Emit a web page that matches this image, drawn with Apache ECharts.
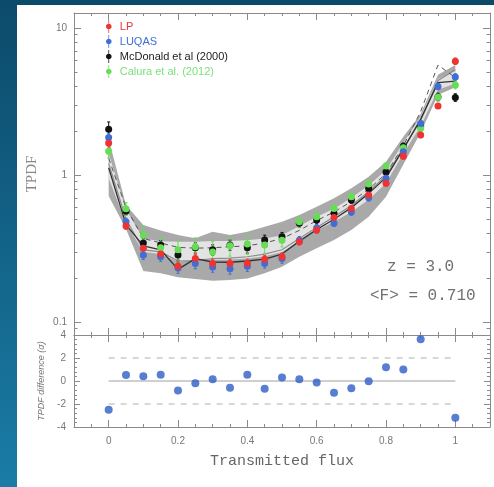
<!DOCTYPE html>
<html>
<head>
<meta charset="utf-8">
<script src="https://cdn.jsdelivr.net/npm/echarts@6/dist/echarts.min.js"></script>
<style>
  html, body { margin: 0; padding: 0; background: #ffffff; }
  #chart { width: 494px; height: 487px; }
</style>
</head>
<body>
<div id="chart"></div>
<script>
// Flux bins shared by all TPDF measurements
const fluxBins = [0, 0.05, 0.1, 0.15, 0.2, 0.25, 0.3, 0.35, 0.4, 0.45, 0.5,
                  0.55, 0.6, 0.65, 0.7, 0.75, 0.8, 0.85, 0.9, 0.95, 1.0];

// TPDF measurements
const lpTpdf      = [1.65, 0.45, 0.317, 0.29, 0.24, 0.27, 0.25, 0.25, 0.25, 0.267, 0.278,
                     0.352, 0.423, 0.515, 0.593, 0.73, 0.878, 1.34, 1.87, 2.95, 5.95];
const luqasTpdf   = [1.8, 0.48, 0.286, 0.278, 0.233, 0.25, 0.237, 0.23, 0.24, 0.25, 0.27,
                     0.36, 0.436, 0.47, 0.56, 0.70, 0.95, 1.44, 2.24, 4.0, 4.65];
const mcdTpdf     = [2.05, 0.57, 0.345, 0.334, 0.286, 0.32, 0.31, 0.334, 0.32, 0.361, 0.38,
                     0.469, 0.495, 0.55, 0.676, 0.81, 1.05, 1.57, 2.15, 3.4, 3.37];
const caluraTpdf  = [1.45, 0.59, 0.39, 0.32, 0.31, 0.325, 0.30, 0.33, 0.34, 0.334, 0.36,
                     0.48, 0.52, 0.593, 0.712, 0.87, 1.15, 1.53, 2.08, 3.38, 4.1];

// Fractional 1-sigma errors
const lpErr      = [0.06, 0.05, 0.06, 0.06, 0.07, 0.07, 0.07, 0.07, 0.07, 0.06, 0.06,
                    0.05, 0.05, 0.05, 0.04, 0.04, 0.04, 0.04, 0.04, 0.04, 0.05];
const luqasErr   = [0.07, 0.06, 0.07, 0.07, 0.08, 0.08, 0.08, 0.08, 0.08, 0.07, 0.07,
                    0.06, 0.06, 0.05, 0.05, 0.05, 0.04, 0.04, 0.04, 0.05, 0.05];
const mcdErr     = [0.12, 0.06, 0.07, 0.07, 0.08, 0.08, 0.08, 0.08, 0.08, 0.08, 0.07,
                    0.06, 0.06, 0.06, 0.05, 0.05, 0.05, 0.05, 0.05, 0.06, 0.06];
const caluraErr  = [0.10, 0.10, 0.15, 0.20, 0.15, 0.15, 0.18, 0.15, 0.15, 0.12, 0.10,
                    0.08, 0.08, 0.07, 0.06, 0.06, 0.05, 0.05, 0.05, 0.05, 0.06];

// Simulation envelopes
const outerLow  = [0.72, 0.43, 0.222, 0.215, 0.202, 0.196, 0.191, 0.193, 0.198, 0.215, 0.238,
                   0.278, 0.317, 0.361, 0.422, 0.52, 0.712, 1.18, 1.95, 3.5, 3.95];
const outerHigh = [1.75, 0.625, 0.457, 0.42, 0.391, 0.371, 0.411, 0.391, 0.411, 0.445, 0.481,
                   0.535, 0.608, 0.694, 0.812, 0.974, 1.23, 1.82, 2.6, 4.8, 5.6];
const innerLow  = [0.95, 0.47, 0.30, 0.29, 0.257, 0.264, 0.264, 0.266, 0.27, 0.28, 0.30,
                   0.355, 0.42, 0.48, 0.56, 0.68, 0.88, 1.4, 2.15, 3.8, 4.2];
const innerHigh = [1.4, 0.58, 0.37, 0.355, 0.352, 0.352, 0.356, 0.356, 0.36, 0.37, 0.39,
                   0.45, 0.52, 0.59, 0.70, 0.85, 1.08, 1.65, 2.5, 4.5, 5.1];

// Model curves
const modelSolid  = [1.12, 0.46, 0.33, 0.31, 0.228, 0.27, 0.256, 0.255, 0.26, 0.268, 0.29,
                     0.355, 0.425, 0.50, 0.60, 0.75, 0.96, 1.5, 2.4, 4.25, 4.35];
const modelGray   = [1.2, 0.50, 0.31, 0.30, 0.26, 0.262, 0.27, 0.272, 0.278, 0.29, 0.31,
                     0.37, 0.44, 0.52, 0.62, 0.77, 0.99, 1.52, 2.35, 4.4, 5.2];
const modelDashed = [1.3, 0.60, 0.37, 0.345, 0.322, 0.318, 0.32, 0.325, 0.33, 0.345, 0.37,
                     0.42, 0.49, 0.56, 0.66, 0.80, 1.02, 1.58, 2.7, 5.6, 4.6];

// Residuals (sigma), lower panel
const diffFlux  = [0, 0.05, 0.1, 0.15, 0.2, 0.25, 0.3, 0.35, 0.4, 0.45, 0.5,
                   0.55, 0.6, 0.65, 0.7, 0.75, 0.8, 0.85, 0.9, 1.0];
const diffSigma = [-2.5, 0.52, 0.42, 0.54, -0.82, -0.2, 0.16, -0.58, 0.54, -0.67, 0.31,
                   0.16, -0.13, -1.02, -0.64, -0.02, 1.2, 0.99, 3.63, -3.19];
const sigmaDashed = [2, -2];
const sigmaZero = [0];

// Axis ticks
const xMajorTicks = [0, 0.2, 0.4, 0.6, 0.8, 1];
const logMajorTicks = [0.1, 1, 10];
const logMinorTicks = [0.09, 0.2, 0.3, 0.4, 0.5, 0.6, 0.7, 0.8, 0.9, 2, 3, 4, 5, 6, 7, 8, 9];

const LOG_MIN = 0.0816, LOG_MAX = 12.65;
const AX = '#8a8a8a';
const LABEL = { color: '#777', fontSize: 10, fontFamily: 'Liberation Sans' };

const isMajorX = v => v > -0.01 && v < 1.01 && Math.abs(v / 0.2 - Math.round(v / 0.2)) < 1e-6;

function xAxesFor(grid, pos, withLabels) {
  const base = {
    type: 'value', gridIndex: grid, position: pos, min: -0.1, max: 1.1,
    splitLine: { show: false }
  };
  const minor = Object.assign({}, base, {
    interval: 0.05,
    axisLine: { show: true, onZero: false, lineStyle: { color: AX, width: 1 } },
    axisTick: { show: true, inside: true, length: 3, lineStyle: { color: AX } },
    axisLabel: withLabels
      ? Object.assign({}, LABEL, { margin: 9, formatter: v => isMajorX(v) ? String(+v.toFixed(1)) : '' })
      : { show: false }
  });
  if (withLabels) {
    minor.name = 'Transmitted flux';
    minor.nameLocation = 'middle';
    minor.nameGap = 27;
    minor.nameTextStyle = { color: '#666', fontSize: 15, fontFamily: 'Liberation Mono' };
  }
  const major = Object.assign({}, base, {
    splitNumber: 6,
    axisLine: { show: false, onZero: false },
    axisTick: { show: true, inside: true, length: 7, customValues: xMajorTicks, lineStyle: { color: AX } },
    axisLabel: { show: false }
  });
  return [minor, major];
}

const xAxes = [].concat(
  xAxesFor(0, 'bottom', false),   // 0,1
  xAxesFor(0, 'top', false),      // 2,3
  xAxesFor(1, 'bottom', true),    // 4,5
  xAxesFor(1, 'top', false)       // 6,7
);

function logAxis(pos, ticks, len, labels, line) {
  const a = {
    type: 'log', logBase: 10, gridIndex: 0, position: pos, min: LOG_MIN, max: LOG_MAX,
    splitLine: { show: false },
    axisLine: { show: line, onZero: false, lineStyle: { color: AX, width: 1 } },
    axisTick: { show: true, inside: true, length: len, customValues: ticks, lineStyle: { color: AX } },
    axisLabel: labels
      ? Object.assign({}, LABEL, { margin: 7, customValues: logMajorTicks, formatter: v => String(v) })
      : { show: false }
  };
  if (labels) {
    a.name = 'TPDF';
    a.nameLocation = 'middle';
    a.nameGap = 34;
    a.nameTextStyle = { color: '#888', fontSize: 15, fontFamily: 'Liberation Serif' };
  }
  return a;
}

function diffAxis(pos, labels) {
  const a = {
    type: 'value', gridIndex: 1, position: pos, min: -4, max: 4, interval: 2,
    splitLine: { show: false },
    axisLine: { show: true, onZero: false, lineStyle: { color: AX, width: 1 } },
    axisTick: { show: true, inside: true, length: 6, lineStyle: { color: AX } },
    minorTick: { show: true, splitNumber: 5, length: 3, lineStyle: { color: AX } },
    axisLabel: labels ? Object.assign({}, LABEL, { margin: 8 }) : { show: false }
  };
  if (labels) {
    a.name = 'TPDF difference (σ)';
    a.nameLocation = 'middle';
    a.nameGap = 27;
    a.nameTextStyle = { color: '#777', fontSize: 9, fontStyle: 'italic', fontFamily: 'Liberation Sans' };
  }
  return a;
}

const yAxes = [
  logAxis('left', logMajorTicks, 7, true, true),    // 0
  logAxis('left', logMinorTicks, 3.5, false, false),// 1
  logAxis('right', logMajorTicks, 7, false, true),  // 2
  logAxis('right', logMinorTicks, 3.5, false, false),// 3
  diffAxis('left', true),                           // 4
  diffAxis('right', false)                          // 5
];

function band(lower, upper, color) {
  return {
    type: 'custom', xAxisIndex: 0, yAxisIndex: 0, silent: true, z: 1,
    data: [[fluxBins[0], lower[0]]],
    renderItem(params, api) {
      const pts = [];
      for (let i = 0; i < fluxBins.length; i++) pts.push(api.coord([fluxBins[i], upper[i]]));
      for (let i = fluxBins.length - 1; i >= 0; i--) pts.push(api.coord([fluxBins[i], lower[i]]));
      return { type: 'polygon', shape: { points: pts }, style: { fill: color } };
    }
  };
}

function curve(vals, color, width, type) {
  return {
    type: 'line', xAxisIndex: 0, yAxisIndex: 0, silent: true, z: 2,
    showSymbol: false, symbol: 'none',
    data: fluxBins.map((x, i) => [x, vals[i]]),
    lineStyle: { color: color, width: width, type: type }
  };
}

function errorBars(vals, errs, color) {
  return {
    type: 'custom', xAxisIndex: 0, yAxisIndex: 0, silent: true, z: 3,
    data: fluxBins.map((x, i) => [x, vals[i], errs[i]]),
    encode: { x: 0, y: 1 },
    renderItem(params, api) {
      const x = api.value(0), y = api.value(1), e = api.value(2);
      const lo = api.coord([x, y * (1 - e)]);
      const hi = api.coord([x, y * (1 + e)]);
      const st = { stroke: color, lineWidth: 1 };
      return {
        type: 'group', children: [
          { type: 'line', shape: { x1: lo[0], y1: lo[1], x2: hi[0], y2: hi[1] }, style: st },
          { type: 'line', shape: { x1: lo[0] - 1.5, y1: lo[1], x2: lo[0] + 1.5, y2: lo[1] }, style: st },
          { type: 'line', shape: { x1: hi[0] - 1.5, y1: hi[1], x2: hi[0] + 1.5, y2: hi[1] }, style: st }
        ]
      };
    }
  };
}

function points(name, vals, color) {
  return {
    name: name, type: 'scatter', xAxisIndex: 0, yAxisIndex: 0, z: 4,
    symbol: 'circle', symbolSize: 7,
    data: fluxBins.map((x, i) => [x, vals[i]]),
    itemStyle: { color: color, opacity: 1 }
  };
}

function refLine(level, dashed) {
  return {
    type: 'line', xAxisIndex: 4, yAxisIndex: 4, silent: true, z: 2,
    showSymbol: false, symbol: 'none',
    data: [[0, level], [1, level]],
    lineStyle: dashed ? { color: '#b0b0b0', width: 1.2, type: [6, 6] } : { color: '#a0a0a0', width: 1.2 }
  };
}

const COLORS = { lp: '#ee3333', luqas: '#3f6fd4', mcd: '#111111', calura: '#66dd55' };
const ICON = 'path://M2.6,0 L3.4,0 L3.4,14 L2.6,14 Z M0,7 C0,3 6,3 6,7 C6,11 0,11 0,7 Z';

const series = [
  band(outerLow, outerHigh, '#a9a9a9'),
  band(innerLow, innerHigh, '#e3e3e3'),
  curve(modelGray, '#8c8c8c', 1.2, 'solid'),
  curve(modelDashed, '#555555', 1, [5, 4]),
  curve(modelSolid, '#333333', 1.3, 'solid'),
  errorBars(mcdTpdf, mcdErr, COLORS.mcd),
  errorBars(caluraTpdf, caluraErr, COLORS.calura),
  errorBars(luqasTpdf, luqasErr, COLORS.luqas),
  errorBars(lpTpdf, lpErr, COLORS.lp),
  points('McDonald et al (2000)', mcdTpdf, COLORS.mcd),
  points('Calura et al. (2012)', caluraTpdf, COLORS.calura),
  points('LUQAS', luqasTpdf, COLORS.luqas),
  points('LP', lpTpdf, COLORS.lp)
];
sigmaDashed.forEach(l => series.push(refLine(l, true)));
sigmaZero.forEach(l => series.push(refLine(l, false)));
series.push({
  type: 'scatter', xAxisIndex: 4, yAxisIndex: 4, z: 4,
  symbol: 'circle', symbolSize: 8,
  data: diffFlux.map((x, i) => [x, diffSigma[i]]),
  itemStyle: { color: '#2e5cc6' }
});

const chart = echarts.init(document.getElementById('chart'), null, { renderer: 'canvas' });
chart.setOption({
  animation: false,
  backgroundColor: '#ffffff',
  grid: [
    { left: 74, right: 4, top: 13, height: 322, outerBoundsMode: 'none' },
    { left: 74, right: 4, top: 335, height: 92, outerBoundsMode: 'none' }
  ],
  xAxis: xAxes,
  yAxis: yAxes,
  legend: {
    orient: 'vertical', left: 106, top: 20, padding: 0,
    itemWidth: 6, itemHeight: 13, itemGap: 2, selectedMode: false,
    textStyle: { fontSize: 11, fontFamily: 'Liberation Sans', padding: [0, 0, 0, 3] },
    data: [
      { name: 'LP', icon: ICON, textStyle: { color: COLORS.lp } },
      { name: 'LUQAS', icon: ICON, textStyle: { color: COLORS.luqas } },
      { name: 'McDonald et al (2000)', icon: ICON, textStyle: { color: '#222' } },
      { name: 'Calura et al. (2012)', icon: ICON, textStyle: { color: '#7be07b' } }
    ]
  },
  graphic: [
    { type: 'rect', left: 0, top: 0, shape: { width: 494, height: 5 }, style: { fill: '#0c4a6a' }, silent: true },
    { type: 'rect', left: 0, top: 0, shape: { width: 17, height: 487 }, silent: true,
      style: { fill: new echarts.graphic.LinearGradient(0, 0, 0, 1, [
        { offset: 0, color: '#0c4a6a' }, { offset: 1, color: '#1a7ca6' }]) } },
    { type: 'text', left: 387, top: 259, silent: true,
      style: { text: 'z = 3.0', fill: '#707070', font: '16px "Liberation Mono"' } },
    { type: 'text', left: 370, top: 288, silent: true,
      style: { text: '<F> = 0.710', fill: '#707070', font: '16px "Liberation Mono"' } }
  ],
  series: series
});
</script>
</body>
</html>
